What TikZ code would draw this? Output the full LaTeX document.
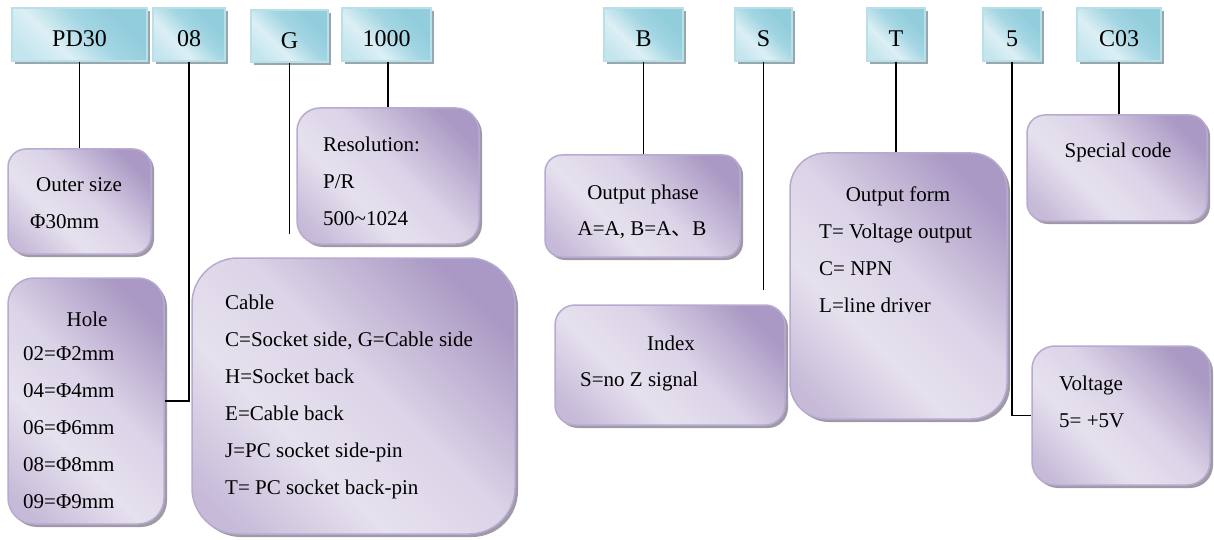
\documentclass[tikz,border=0pt]{standalone}
\usepackage{fontspec}
\setmainfont{Liberation Serif}
\newfontfamily\cjkfont{Noto Sans CJK SC}
\usetikzlibrary{shadows}
\definecolor{blA}{HTML}{C4E5EE}
\definecolor{blB}{HTML}{DCEFF4}
\definecolor{blC}{HTML}{A4D6E3}
\definecolor{blD}{HTML}{92CDDC}
\definecolor{blborder}{HTML}{B9DFE9}
\definecolor{blshadow}{HTML}{98A7AB}
\definecolor{puA}{HTML}{C6BAD8}
\definecolor{puB}{HTML}{E6E1EE}
\definecolor{puC}{HTML}{DBD3E7}
\definecolor{puD}{HTML}{AA99C4}
\definecolor{puborder}{HTML}{B7AAD0}
\definecolor{pushadow}{HTML}{A09AA6}
\pgfdeclarehorizontalshading{blueshade}{100bp}{color(0bp)=(blA); color(22bp)=(blA); color(38bp)=(blB); color(55bp)=(blC); color(70bp)=(blD); color(100bp)=(blD)}
\pgfdeclarehorizontalshading{purpleshade}{100bp}{color(0bp)=(puA); color(20bp)=(puA); color(38bp)=(puB); color(54bp)=(puC); color(76bp)=(puD); color(100bp)=(puD)}
\tikzset{
  topbox/.style={draw=blborder, line width=1.5pt, shading=blueshade, shading angle=45,
    drop shadow={shadow xshift=3pt, shadow yshift=-3pt, fill=blshadow, opacity=1},
    inner sep=0pt, minimum height=53pt, text height=24.4pt, text depth=0pt,
    font=\fontsize{24}{28}\selectfont},
  infobox/.style={draw=puborder, line width=1.5pt, shading=purpleshade, shading angle=45,
    drop shadow={shadow xshift=3pt, shadow yshift=-3pt, fill=pushadow, opacity=1},
    inner sep=0pt},
  txt/.style={inner sep=0pt, align=left, font=\fontsize{21}{37}\selectfont},
  conn/.style={draw=black, line width=1.4pt},
}
\begin{document}
\begin{tikzpicture}[x=1pt, y=-1pt]
\useasboundingbox (0,0) rectangle (1214,540);

% top code boxes
\node[topbox, minimum width=135pt] (pd30) at (79.5,34.5) {PD30};
\node[topbox, minimum width=72pt] (n08) at (189,34.5) {08};
\node[topbox, minimum width=77pt, minimum height=52pt] (g) at (289.5,36) {G};
\node[topbox, minimum width=89pt] (k1000) at (386.5,34.5) {1000};
\node[topbox, minimum width=79pt] (b) at (643.5,34.5) {B};
\node[topbox, minimum width=57pt] (s) at (763.5,34.5) {S};
\node[topbox, minimum width=58pt] (t) at (896,34.5) {T};
\node[topbox, minimum width=58pt] (five) at (1012,34.5) {5};
\node[topbox, minimum width=84pt] (c03) at (1119,34.5) {C03};

% description boxes
\node[infobox, rounded corners=18pt, minimum width=143pt, minimum height=105pt] (outer) at (79.5,201.5) {};
\node[infobox, rounded corners=26pt, minimum width=156pt, minimum height=246pt] (hole) at (86,401) {};
\node[infobox, rounded corners=23pt, minimum width=182pt, minimum height=136pt] (res) at (388,176) {};
\node[infobox, rounded corners=46pt, minimum width=323pt, minimum height=276pt] (cable) at (353.5,396) {};
\node[infobox, rounded corners=17pt, minimum width=195pt, minimum height=102pt] (phase) at (642.5,206) {};
\node[infobox, rounded corners=20pt, minimum width=230pt, minimum height=120pt] (index) at (670,365) {};
\node[infobox, rounded corners=36pt, minimum width=217pt, minimum height=266pt] (outform) at (898.5,286) {};
\node[infobox, rounded corners=18pt, minimum width=180pt, minimum height=106pt] (special) at (1117,168) {};
\node[infobox, rounded corners=23pt, minimum width=178pt, minimum height=139pt] (voltage) at (1121,415.5) {};

% texts
\node[txt, anchor=north] (outerT) at (79,177) {Outer size};
\node[txt, anchor=north west] (outerB) at (30,214) {Φ30mm};
\node[txt, anchor=north] (holeT) at (87,312) {Hole};
\node[txt, anchor=north west] (holeB) at (23,346) {02=Φ2mm\\04=Φ4mm\\06=Φ6mm\\08=Φ8mm\\09=Φ9mm};
\node[txt, anchor=north west] (resB) at (323,137) {Resolution:\\P/R\\500\textasciitilde1024};
\node[txt, anchor=north west] (cableB) at (225,295) {Cable\\C=Socket side, G=Cable side\\H=Socket back\\E=Cable back\\J=PC socket side-pin\\T= PC socket back-pin};
\node[txt, anchor=north] (phaseT) at (643,185) {Output phase};
\node[txt, anchor=north] (phaseB) at (642,221) {A=A, B=A{\cjkfont 、}B};
\node[txt, anchor=north] (indexT) at (671,336) {Index};
\node[txt, anchor=north west] (indexB) at (580,372) {S=no Z signal};
\node[txt, anchor=north] (outformT) at (898,187) {Output form};
\node[txt, anchor=north west] (outformB) at (819,224) {T= Voltage output\\C= NPN\\L=line driver};
\node[txt, anchor=north] (specialT) at (1118,143) {Special code};
\node[txt, anchor=north west] (voltageB) at (1059,376) {Voltage\\5= +5V};

% connectors
\coordinate (gend) at (289.5,234);
\coordinate (send) at (763.5,290);
\draw[conn] (pd30.south) -- (outer.north);
\draw[conn] (n08.south) |- (hole.east);
\draw[conn] (g.south) -- (gend);
\draw[conn] ([xshift=1.5pt]k1000.south) -- ([xshift=1.5pt]k1000.south |- res.north);
\draw[conn] (b.south) -- (b.south |- phase.north);
\draw[conn] (s.south) -- (send);
\draw[conn] (t.south) -- (t.south |- outform.north);
\draw[conn] (five.south) |- (voltage.west);
\draw[conn] (c03.south) -- (c03.south |- special.north);
\end{tikzpicture}
\end{document}
